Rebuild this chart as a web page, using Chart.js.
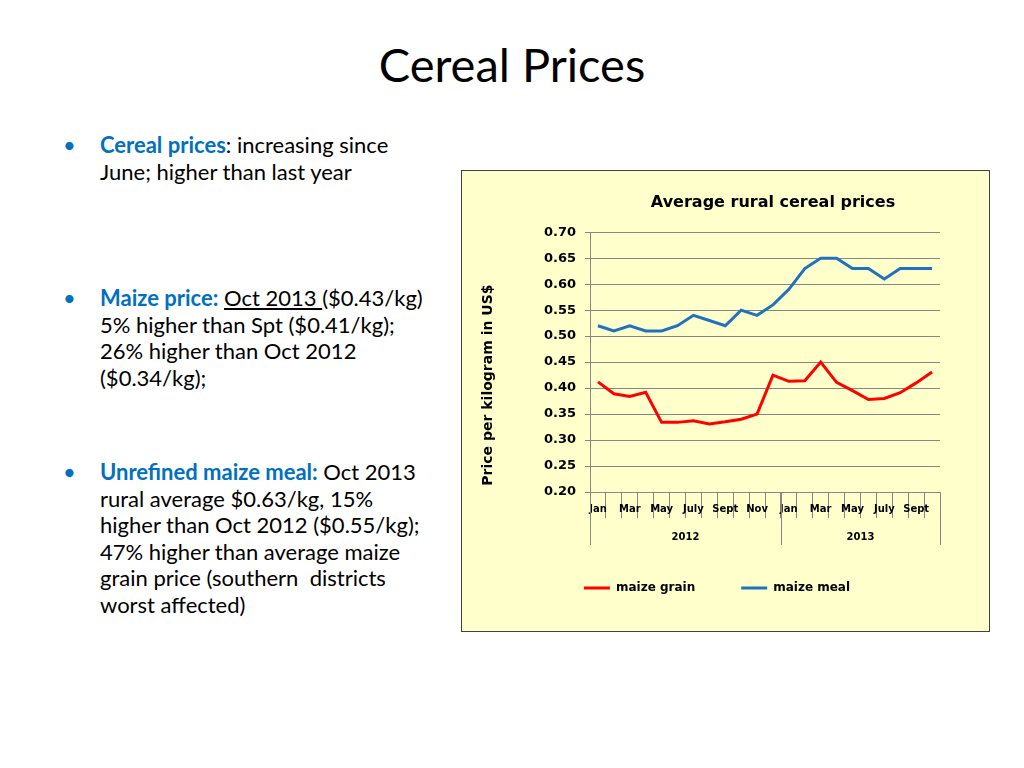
<!DOCTYPE html>
<html>
<head>
<meta charset="utf-8">
<script src="https://cdn.jsdelivr.net/npm/chart.js@4"></script>
<style>
    body{
        margin:0;
        width:1024px;
        height:768px;
        background:#fff;
        font-family:Lato, "Liberation Sans", sans-serif;
        position:relative;
        overflow:hidden;
    }
    h1{
        position:absolute;
        top:34px;
        left:0;
        width:1024px;
        margin:0;
        text-align:center;
        font-weight:normal;
        font-size:47px;
        line-height:60px;
        color:#000;
    }
    .bullet{
        position:absolute;
        left:100px;
        font-size:22px;
        line-height:26.5px;
        color:#000;
    }
    .bullet::before{
        content:'\2022';
        position:absolute;
        left:-37px;
        color:#0070C0;
    }
    .blue{
        color:#0070C0;
        font-weight:bold;
    }
    #box{
        position:absolute;
        left:461px;
        top:170px;
        width:527px;
        height:460px;
        background:#FFFFCC;
        border:1px solid #404040;
    }
</style>
</head>
<body>
<h1>Cereal Prices</h1>
<div class="bullet" style="top:132px"><span class="blue">Cereal prices</span>: increasing since<br>June; higher than last year</div>
<div class="bullet" style="top:285px"><span class="blue">Maize price:</span> <u>Oct 2013 </u>($0.43/kg)<br>5% higher than Spt ($0.41/kg);<br>26% higher than Oct 2012<br>($0.34/kg);</div>
<div class="bullet" style="top:459px"><span class="blue">Unrefined maize meal:</span> Oct 2013<br>rural average $0.63/kg, 15%<br>higher than Oct 2012 ($0.55/kg);<br>47% higher than average maize<br>grain price (southern &nbsp;districts<br>worst affected)</div>
<div id="box"><canvas id="myChart" width="527" height="460"></canvas></div>
<script>
// Jan 2012 .. Oct 2013
var months = ['Jan','Feb','Mar','Apr','May','June','July','Aug','Sept','Oct','Nov','Dec',
              'Jan','Feb','Mar','Apr','May','June','July','Aug','Sept','Oct'];
var years = ['2012','2013'];
var monthsPerYear = [12, 10];
var maizeGrain = [0.412,0.389,0.384,0.392,0.334,0.334,0.337,0.331,0.335,0.340,0.350,0.425,
                  0.413,0.414,0.450,0.411,0.395,0.378,0.380,0.391,0.410,0.431];
var maizeMeal = [0.52,0.51,0.52,0.51,0.51,0.52,0.54,0.53,0.52,0.55,0.54,0.56,
                 0.59,0.63,0.65,0.65,0.63,0.63,0.61,0.63,0.63,0.63];
var yTicks = ['0.20','0.25','0.30','0.35','0.40','0.45','0.50','0.55','0.60','0.65','0.70'];
var yTitle = 'Price per kilogram in US$';

var chartFont = '"DejaVu Sans", sans-serif';
var gridColor = '#868686';

// year row under the month labels and the y title, placed from the scales
var yearRow = {
    id:'yearRow',
    afterDraw(chart){
        var x = chart.scales.x;
        var y = chart.scales.y;
        var ctx = chart.ctx;
        var bottom = chart.chartArea.bottom;
        var edges = [x.left];
        var idx = 0;
        monthsPerYear.forEach(function(n){
            idx += n;
            if(idx < months.length){
                edges.push((x.getPixelForValue(idx - 1) + x.getPixelForValue(idx)) / 2);
            }
        });
        edges.push(x.right);
        ctx.save();
        ctx.strokeStyle = gridColor;
        ctx.lineWidth = 1;
        edges.forEach(function(e){
            var px = Math.round(e) + 0.5;
            ctx.beginPath();
            ctx.moveTo(px, bottom);
            ctx.lineTo(px, bottom + 53);
            ctx.stroke();
        });
        ctx.fillStyle = '#000';
        ctx.font = 'bold 10px ' + chartFont;
        ctx.textAlign = 'center';
        ctx.textBaseline = 'middle';
        years.forEach(function(yr, i){
            ctx.fillText(yr, (edges[i] + edges[i + 1]) / 2, bottom + 45);
        });
        // axis title, centred over plot + category rows like the original
        ctx.font = 'bold 14px ' + chartFont;
        ctx.translate(y.left + 13, (chart.chartArea.top + bottom + 46) / 2);
        ctx.rotate(-Math.PI / 2);
        ctx.fillText(yTitle, 0, 0);
        ctx.restore();
    },
    afterLayout(chart){
        // centre the chart title over the plot area, nudge the legend right
        var t = chart.titleBlock;
        if(t){
            t.left = chart.chartArea.left;
            t.right = chart.chartArea.right + 16;
        }
        var lg = chart.legend;
        if(lg){
            lg.left += 9;
            lg.right += 10;
        }
    }
};

var ctx1 = document.getElementById('myChart').getContext('2d');
var myChart = new Chart(ctx1, {
    type:'line',
    data:{
        labels:months,
        datasets:[{
            label:'maize grain',
            data:maizeGrain,
            borderColor:'#FF0000',
            backgroundColor:'#FF0000',
            borderWidth:3,
            pointRadius:0,
            tension:0
        },{
            label:'maize meal',
            data:maizeMeal,
            borderColor:'#1F72BD',
            backgroundColor:'#1F72BD',
            borderWidth:3,
            pointRadius:0,
            tension:0
        }]
    },
    options:{
        responsive:false,
        animation:false,
        layout:{padding:{left:13, right:49, top:0, bottom:27}},
        plugins:{
            title:{
                display:true,
                text:'Average rural cereal prices',
                color:'#000',
                font:{family:chartFont, size:16, weight:'bold'},
                padding:{top:22, bottom:20}
            },
            legend:{
                position:'bottom',
                labels:{
                    color:'#000',
                    font:{family:chartFont, size:12, weight:'bold'},
                    usePointStyle:true,
                    pointStyle:'line',
                    pointStyleWidth:26,
                    padding:46
                }
            },
            tooltip:{enabled:false}
        },
        scales:{
            x:{
                offset:true,
                grid:{
                    offset:true,
                    drawOnChartArea:false,
                    drawTicks:true,
                    tickLength:26,
                    color:gridColor
                },
                border:{color:gridColor},
                ticks:{
                    autoSkip:false,
                    maxRotation:0,
                    padding:-15,
                    color:'#000',
                    font:{family:chartFont, size:10, weight:'bold'},
                    callback:function(v, i){ return i % 2 === 0 ? months[i] : ''; }
                },
                afterFit:function(s){ s.height = 44; }
            },
            y:{
                min:0.2,
                max:0.7,
                grid:{color:gridColor, tickLength:5},
                border:{color:gridColor},
                ticks:{
                    stepSize:0.05,
                    padding:9,
                    color:'#000',
                    font:{family:chartFont, size:13, weight:'bold'},
                    callback:function(v, i){ return yTicks[i]; }
                },
                afterFit:function(s){ s.width = 115; }
            }
        }
    },
    plugins:[yearRow]
});
</script>
</body>
</html>
